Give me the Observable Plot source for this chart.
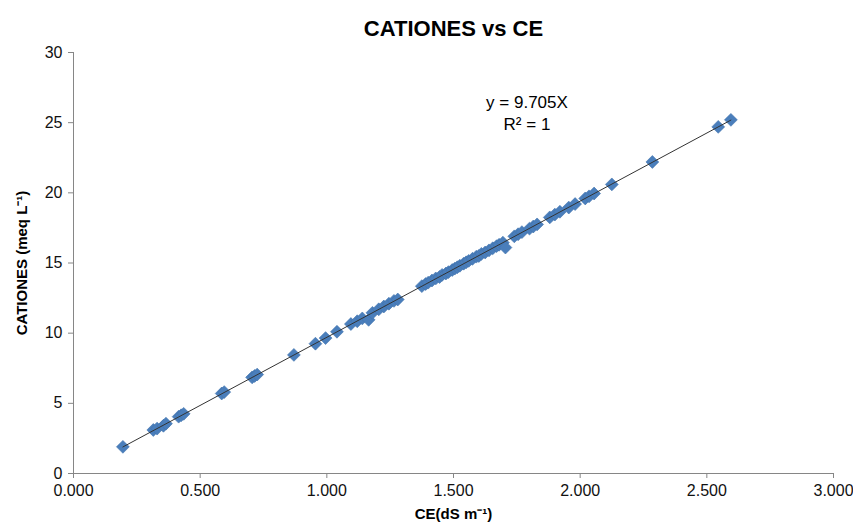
<!DOCTYPE html>
<html><head><meta charset="utf-8">
<script src="https://cdn.jsdelivr.net/npm/d3@7"></script>
<script src="https://cdn.jsdelivr.net/npm/@observablehq/plot@0.6"></script>
<style>
body{margin:0;background:#fff;}
</style></head><body><div id="chart"></div>
<script>
const titleText = "CATIONES vs CE";
const xLabel = "CE(dS m⁻¹)";
const yLabel = "CATIONES (meq L⁻¹)";
const equationText = "y = 9.705X";
const r2Text = "R² = 1";
const slope = 9.705;

const xTicks = [0, 0.5, 1.0, 1.5, 2.0, 2.5, 3.0];
const yTicks = [0, 5, 10, 15, 20, 25, 30];

const ce = [0.195,0.315,0.330,0.355,0.365,0.415,0.425,0.435,0.585,0.595,0.705,0.715,0.725,0.870,0.955,0.995,1.040,1.095,1.120,1.140,1.165,1.180,1.205,1.225,1.245,1.265,1.280,1.375,1.390,1.400,1.415,1.430,1.445,1.455,1.470,1.480,1.495,1.505,1.515,1.525,1.540,1.550,1.560,1.575,1.590,1.600,1.610,1.625,1.640,1.655,1.670,1.680,1.695,1.705,1.740,1.755,1.770,1.800,1.815,1.830,1.880,1.900,1.920,1.955,1.980,2.020,2.035,2.055,2.125,2.285,2.545,2.595];
const cationes = [1.9,3.1,3.2,3.4,3.55,4.05,4.15,4.25,5.7,5.8,6.85,6.95,7.05,8.45,9.25,9.65,10.1,10.65,10.85,11.05,10.95,11.45,11.7,11.9,12.1,12.3,12.4,13.35,13.5,13.6,13.75,13.9,14.0,14.15,14.25,14.35,14.5,14.6,14.7,14.8,14.95,15.05,15.15,15.3,15.45,15.5,15.65,15.75,15.9,16.05,16.2,16.3,16.45,16.1,16.9,17.05,17.2,17.45,17.6,17.75,18.25,18.45,18.65,18.95,19.2,19.6,19.75,19.95,20.6,22.2,24.7,25.2];

const points = ce.map((x, i) => ({x, y: cationes[i]}));
const xExt = d3.extent(ce);
const trend = xExt.map(x => ({x, y: slope * x}));

const axisGray = "#868686";
const font = "'Liberation Sans', Arial, sans-serif";

const chart = Plot.plot({
  width: 853, height: 529,
  marginLeft: 73, marginRight: 20, marginTop: 52, marginBottom: 56,
  style: {fontFamily: font, fontSize: "16px", color: "#000", background: "#fff"},
  x: {domain: [0, 3]},
  y: {domain: [0, 30]},
  marks: [
    Plot.ruleY([0], {stroke: axisGray}),
    Plot.ruleX([0], {stroke: axisGray}),
    Plot.axisX({ticks: xTicks, tickFormat: d => d.toFixed(3), tickSize: 5, tickPadding: 6, stroke: axisGray, color: "#111", label: null, fontSize: 16}),
    Plot.axisY({ticks: yTicks, tickSize: 5, tickPadding: 6, stroke: axisGray, color: "#111", label: null, fontSize: 16}),
    Plot.dot(points, {x: "x", y: "y", symbol: "diamond2", r: 5.8, fill: "#4a7ebb", stroke: "#3f72ad", strokeWidth: 0.6}),
    Plot.line(trend, {x: "x", y: "y", stroke: "#333", strokeWidth: 1}),
    Plot.text([titleText], {frameAnchor: "top", dy: -32, fontSize: 22, fontWeight: "bold", fill: "#000"}),
    Plot.text([xLabel], {frameAnchor: "bottom", dy: 45, fontSize: 15, fontWeight: "bold", fill: "#000"}),
    Plot.text([yLabel], {frameAnchor: "left", dx: -51, rotate: -90, textAnchor: "middle", fontSize: 15, fontWeight: "bold", fill: "#000"}),
    Plot.text([equationText], {x: 1.79, y: 26.4, fontSize: 17, fill: "#000"}),
    Plot.text([r2Text], {x: 1.79, y: 24.9, fontSize: 17, fill: "#000"})
  ]
});
document.getElementById("chart").appendChild(chart);
</script></body></html>
